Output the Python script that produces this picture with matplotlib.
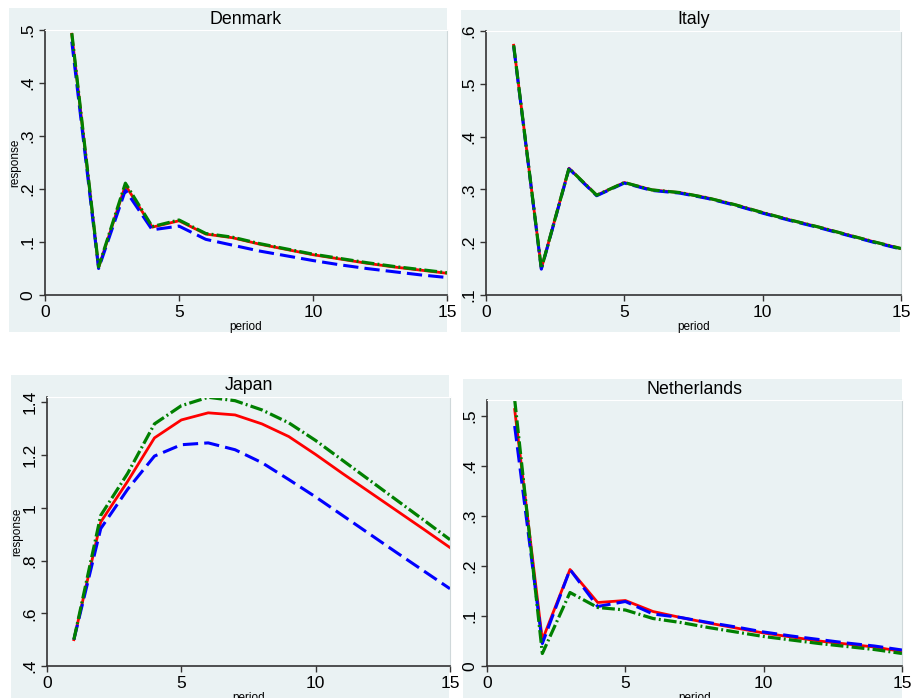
"""Impulse responses by country, four panels in Stata s2color style."""

import matplotlib.pyplot as plt
from matplotlib.patches import Rectangle

plt.rcParams["font.family"] = ["Liberation Sans", "DejaVu Sans"]

W, H = 912, 698
BG = "#eaf2f3"
AXIS_COL = "#333333"

period = list(range(1, 16))

denmark_red = [0.492, 0.052, 0.207, 0.128, 0.140, 0.115, 0.108, 0.096, 0.086,
               0.076, 0.068, 0.060, 0.053, 0.047, 0.041]
denmark_blue = [0.478, 0.050, 0.198, 0.123, 0.130, 0.105, 0.094, 0.083, 0.074,
                0.065, 0.057, 0.050, 0.044, 0.038, 0.033]
denmark_green = [0.494, 0.053, 0.211, 0.129, 0.1415, 0.116, 0.109, 0.097, 0.087,
                 0.077, 0.069, 0.061, 0.054, 0.048, 0.042]

italy_red = [0.573, 0.150, 0.340, 0.289, 0.313, 0.299, 0.294, 0.284, 0.271,
             0.256, 0.242, 0.229, 0.215, 0.201, 0.188]
italy_blue = [0.571, 0.149, 0.339, 0.288, 0.312, 0.298, 0.293, 0.283, 0.270,
              0.255, 0.241, 0.228, 0.214, 0.200, 0.187]
italy_green = [0.573, 0.150, 0.340, 0.289, 0.313, 0.299, 0.294, 0.284, 0.271,
               0.256, 0.242, 0.229, 0.215, 0.201, 0.188]

japan_red = [0.500, 0.946, 1.100, 1.265, 1.333, 1.360, 1.352, 1.318, 1.270,
             1.202, 1.130, 1.060, 0.990, 0.920, 0.849]
japan_blue = [0.500, 0.921, 1.070, 1.196, 1.239, 1.246, 1.220, 1.171, 1.107,
              1.041, 0.971, 0.901, 0.831, 0.762, 0.693]
japan_green = [0.500, 0.971, 1.130, 1.318, 1.387, 1.419, 1.406, 1.371, 1.322,
               1.255, 1.180, 1.105, 1.030, 0.955, 0.879]

nether_red = [0.513, 0.052, 0.193, 0.127, 0.131, 0.109, 0.097, 0.086, 0.076,
              0.066, 0.058, 0.050, 0.044, 0.038, 0.029]
nether_blue = [0.480, 0.045, 0.193, 0.119, 0.129, 0.104, 0.097, 0.087, 0.078,
               0.068, 0.060, 0.053, 0.046, 0.040, 0.032]
nether_green = [0.533, 0.025, 0.147, 0.117, 0.112, 0.095, 0.087, 0.077, 0.068,
                0.059, 0.052, 0.045, 0.039, 0.033, 0.025]

panels = [
    # title, series, ylim, yticks, ylabels, show ylabel, axes px box, bg px box, title y px
    ("Denmark", (denmark_red, denmark_blue, denmark_green), (0, 0.5),
     [0, 0.1, 0.2, 0.3, 0.4, 0.5], ["0", ".1", ".2", ".3", ".4", ".5"], True,
     (45, 30, 447, 295), (9, 8, 447, 332), 19),
    ("Italy", (italy_red, italy_blue, italy_green), (0.1, 0.6),
     [0.1, 0.2, 0.3, 0.4, 0.5, 0.6], [".1", ".2", ".3", ".4", ".5", ".6"], False,
     (486, 31, 901, 295), (461, 10, 900, 332), 20),
    ("Japan", (japan_red, japan_blue, japan_green), (0.4, 1.42),
     [0.4, 0.6, 0.8, 1.0, 1.2, 1.4], [".4", ".6", ".8", "1", "1.2", "1.4"], True,
     (47, 397, 450, 666), (11, 375, 449, 698), 385),
    ("Netherlands", (nether_red, nether_blue, nether_green), (0, 0.532),
     [0, 0.1, 0.2, 0.3, 0.4, 0.5], ["0", ".1", ".2", ".3", ".4", ".5"], False,
     (487, 400, 902, 666), (463, 379, 902, 698), 389),
]

fig = plt.figure(figsize=(W / 100, H / 100), dpi=100)
fig.patch.set_facecolor("white")

for title, (red, blue, green), ylim, yticks, ylabels, show_ylab, box, bg, ty in panels:
    bx0, by0, bx1, by1 = bg
    fig.patches.append(Rectangle((bx0 / W, 1 - by1 / H), (bx1 - bx0) / W,
                                 (by1 - by0) / H, transform=fig.transFigure,
                                 facecolor=BG, edgecolor="none", zorder=-10))
    x0, y0, x1, y1 = box
    ax = fig.add_axes([x0 / W, 1 - y1 / H, (x1 - x0) / W, (y1 - y0) / H])
    ax.set_zorder(1)
    ax.set_facecolor(BG)
    ax.plot(period, red, color="#ff0000", lw=2.0, solid_joinstyle="round")
    ax.plot(period, blue, color="#0000ff", lw=2.2, dashes=(5, 2))
    ax.plot(period, green, color="#008000", lw=2.3, dashes=(4, 1, 0.6, 1))
    ax.set_xlim(0, 15)
    ax.set_ylim(*ylim)
    ax.set_xticks([0, 5, 10, 15])
    ax.set_yticks(yticks)
    ax.set_yticklabels(ylabels, rotation=90, va="center")
    ax.tick_params(direction="out", length=4, width=1, color=AXIS_COL,
                   labelsize=12.5, pad=3)
    for side in ("left", "bottom"):
        ax.spines[side].set_color(AXIS_COL)
        ax.spines[side].set_linewidth(1.2)
    ax.spines["top"].set_color("white")
    ax.spines["right"].set_color("#cfd8da")
    ax.set_xlabel("period", fontsize=8.5, labelpad=1)
    if show_ylab:
        ax.set_ylabel("response", fontsize=8.5, labelpad=-1)
    fig.text((x0 + x1) / 2 / W, 1 - ty / H, title, ha="center", va="center",
             fontsize=12.8, zorder=2)

fig.savefig("out.png", dpi=100)
